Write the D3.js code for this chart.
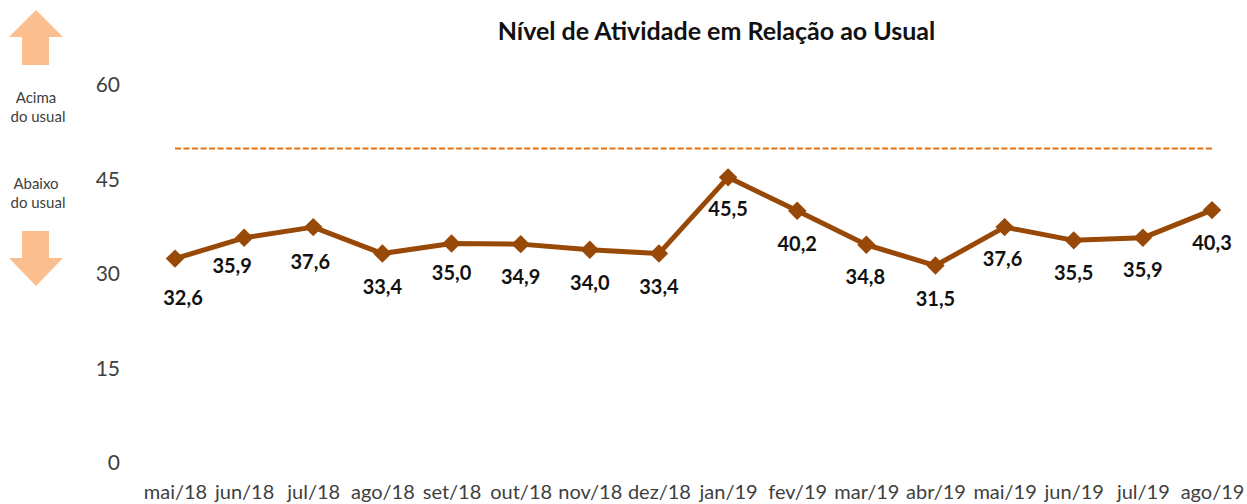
<!DOCTYPE html>
<html><head><meta charset="utf-8">
<script src="https://cdn.jsdelivr.net/npm/d3@7"></script>
<style>html,body{margin:0;padding:0;background:#fff}svg{display:block}text{font-family:Lato,"Open Sans",sans-serif}</style>
</head><body><svg id="c" width="1247" height="504"></svg>
<script>
const categories=["mai/18","jun/18","jul/18","ago/18","set/18","out/18","nov/18","dez/18","jan/19","fev/19","mar/19","abr/19","mai/19","jun/19","jul/19","ago/19"];
const values=[32.6,35.9,37.6,33.4,35.0,34.9,34.0,33.4,45.5,40.2,34.8,31.5,37.6,35.5,35.9,40.3];
const reference=50;
const yTicks=[0,15,30,45,60];
const title="Nível de Atividade em Relação ao Usual";
// label nudges [dx, dy] from each point, in pixels
const labelNudges=[[8,39],[-12,28],[-3,35],[0,33],[0,29],[0,33],[0,33],[0,33],[0,32],[0,33],[-1,32],[0,33],[-2,32],[0,33],[0,32],[0,33]];
const svg=d3.select("#c");
const x=d3.scalePoint().domain(categories).range([175,1212]);
const y=d3.scaleLinear().domain([0,60]).range([464,86]);
const fmt=v=>v.toFixed(1).replace(".",",");
svg.append("text").attr("x",716.5).attr("y",40).attr("text-anchor","middle").attr("font-size",25).attr("font-weight",700).attr("fill","#111").text(title);
const yAxis=d3.axisLeft(y).tickValues(yTicks).tickSize(0).tickPadding(0);
const ya=svg.append("g").attr("transform","translate(120,-1)").call(yAxis);
ya.select(".domain").remove();
ya.selectAll("text").attr("font-size",21).attr("fill","#404040").attr("font-family","Lato");
const xAxis=d3.axisBottom(x).tickSize(0).tickPadding(0);
const xa=svg.append("g").attr("transform","translate(0,485)").call(xAxis);
xa.select(".domain").remove();
xa.selectAll("text").attr("font-size",20).attr("fill","#404040").attr("font-family","Lato");
svg.append("line").attr("x1",x(categories[0])).attr("x2",x(categories[15])).attr("y1",y(reference)-0.5).attr("y2",y(reference)-0.5).attr("stroke","#E8700F").attr("stroke-width",2).attr("stroke-dasharray","6 2.52");
const line=d3.line().x((d,i)=>x(categories[i])).y(d=>y(d));
svg.append("path").datum(values).attr("d",line).attr("fill","none").attr("stroke","#984807").attr("stroke-width",5).attr("stroke-linejoin","round");
svg.selectAll(".m").data(values).join("path").attr("class","m").attr("d",d3.symbol(d3.symbolSquare,170)()).attr("fill","#984807")
 .attr("transform",(d,i)=>`translate(${x(categories[i])},${y(d)}) rotate(45)`);
svg.selectAll(".l").data(values).join("text").attr("class","l").attr("text-anchor","middle").attr("font-size",20).attr("font-weight",700).attr("fill","#111")
 .attr("x",(d,i)=>x(categories[i])+labelNudges[i][0]).attr("y",(d,i)=>y(d)+labelNudges[i][1]+7).text(fmt);
const arrowColor="#FBBF8F";
svg.append("path").attr("d","M36,10L63,37H49V65H22V37H9Z").attr("fill",arrowColor);
svg.append("path").attr("d","M22,231H49V258H63L36,286L9,258H22Z").attr("fill",arrowColor);
[["Acima",36,102.5],["do usual",38,121.5],["Abaixo",36,188.5],["do usual",38,207.5]].forEach(s=>{
 svg.append("text").attr("x",s[1]).attr("y",s[2]).attr("text-anchor","middle").attr("font-size",15).attr("fill","#404040").text(s[0]);
});
</script></body></html>
